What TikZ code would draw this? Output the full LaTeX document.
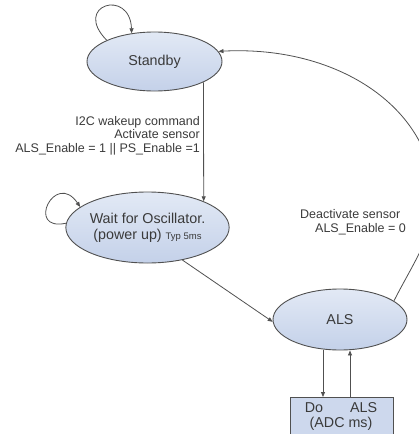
\documentclass[tikz,border=0pt]{standalone}
\usepackage{fontspec}
\setmainfont{Liberation Sans}
\usetikzlibrary{arrows.meta,shapes.geometric}
\definecolor{txtc}{HTML}{3A3A3A}
\definecolor{linec}{HTML}{505050}
\definecolor{filltop}{HTML}{E2E9F5}
\definecolor{fillbot}{HTML}{C4D1E9}
\tikzset{
  state/.style={ellipse, draw=linec, line width=0.9pt, top color=filltop, bottom color=fillbot,
    inner sep=0pt, text=txtc, font=\fontsize{14.3}{16}\selectfont, align=center},
  stbox/.style={rectangle, draw=linec, line width=0.9pt, fill=fillbot!70!filltop, inner sep=0pt},
  arr/.style={draw=linec, line width=0.8pt, -{Triangle[length=5pt,width=4pt]}},
  lbl/.style={text=txtc, font=\fontsize{12.5}{13.6}\selectfont, inner sep=0pt},
}
\begin{document}
\begin{tikzpicture}[x=1pt,y=-1pt]
\useasboundingbox (0,0) rectangle (418,434);
\node[state, minimum width=135pt, minimum height=59pt] (sb) at (154.5,61.5) {Standby};
\node[state, minimum width=163pt, minimum height=71pt] (wt) at (147.5,227.5)
  {Wait for Oscillator.\\(power up) {\fontsize{9.5}{10}\selectfont Typ 5ms}};
\node[state, minimum width=134pt, minimum height=61pt] (als) at (340,319.5) {ALS};
\node[stbox, minimum width=103pt, minimum height=46pt, anchor=north] (box) at (341.5,397) {};
\node[text=txtc, font=\fontsize{14.3}{15}\selectfont, align=center, inner sep=0pt] (boxtext) at (341,416)
  {Do\hspace{27pt}ALS\\(ADC ms)};
% self loops
\draw[arr] (sb.156) .. controls (72,5) and (130,-12) .. (sb.129);
\draw[arr] (wt.177) .. controls (25,232) and (55,170) .. (wt.163);
% transitions
\draw[arr] (sb.-23) -- (wt.25);
\node[lbl, align=right, anchor=east] (l1) at (200,135.5)
  {I2C wakeup command\\Activate sensor\\ALS\_Enable = 1 || PS\_Enable =1};
\draw[arr] (wt.-43) -- (als.182);
\draw[arr] ([xshift=-17pt]als.south) -- ([xshift=-18.5pt]box.north);
\draw[arr] ([xshift=8.5pt]box.north) -- ([xshift=10pt]als.south);
\draw[arr] (als.19) .. controls (412,265) and (434,235) .. (434,200)
  .. controls (434,110) and (340,45) .. (sb.9);
\node[lbl, align=left, anchor=west] (l2) at (300,222)
  {Deactivate sensor\\\hspace*{15pt}ALS\_Enable = 0};
\end{tikzpicture}
\end{document}
